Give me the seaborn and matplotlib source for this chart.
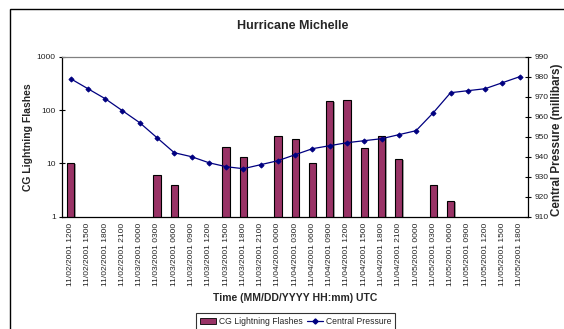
import numpy as np
import pandas as pd
import matplotlib
matplotlib.use("Agg")
import matplotlib.pyplot as plt
import matplotlib.patheffects as pe
from matplotlib.patches import Patch, Rectangle
from matplotlib.lines import Line2D
from matplotlib.ticker import NullLocator, FixedLocator
import seaborn as sns

# Observation times (UTC)
times = [
    "11/02/2001 1200", "11/02/2001 1500", "11/02/2001 1800", "11/02/2001 2100",
    "11/03/2001 0000", "11/03/2001 0300", "11/03/2001 0600", "11/03/2001 0900",
    "11/03/2001 1200", "11/03/2001 1500", "11/03/2001 1800", "11/03/2001 2100",
    "11/04/2001 0000", "11/04/2001 0300", "11/04/2001 0600", "11/04/2001 0900",
    "11/04/2001 1200", "11/04/2001 1500", "11/04/2001 1800", "11/04/2001 2100",
    "11/05/2001 0000", "11/05/2001 0300", "11/05/2001 0600", "11/05/2001 0900",
    "11/05/2001 1200", "11/05/2001 1500", "11/05/2001 1800",
]

# Cloud-to-ground lightning flash counts (NaN = no flashes recorded)
flashes = [
    10, np.nan, np.nan, np.nan,
    np.nan, 6, 4, np.nan,
    np.nan, 20, 13, np.nan,
    33, 29, 10, 146,
    155, 19, 32, 12,
    np.nan, 4, 2, np.nan,
    np.nan, np.nan, np.nan,
]

# Central pressure (mb)
pressure = [
    979, 974, 969, 963,
    957, 949.5, 942, 940,
    937, 935, 934, 936,
    938, 941, 944, 945.5,
    947, 948, 949, 951,
    953, 962, 972, 973,
    974, 977, 980,
]

flash_ticks = [1, 10, 100, 1000]
pressure_ticks = [910, 920, 930, 940, 950, 960, 970, 980, 990]

bar_color = "#993366"
line_color = "#000080"

df = pd.DataFrame({"time": times, "flashes": flashes, "pressure": pressure})
bars = df.dropna(subset=["flashes"])

sns.set_style("white")
plt.rcParams["font.family"] = ["Liberation Sans", "DejaVu Sans"]

fig = plt.figure(figsize=(5.64, 3.29), dpi=100)
W, H = 564, 329
left, right, top, bottom = 62, 528.3, 56.7, 216.7
ax = fig.add_axes([left / W, 1 - bottom / H, (right - left) / W, (bottom - top) / H])

sns.barplot(data=bars, x="time", y="flashes", order=times, color=bar_color,
            edgecolor="black", linewidth=0.8, width=0.42, saturation=1, ax=ax)
ax.set_yscale("log")
for p in ax.patches:
    p.set_path_effects([pe.SimplePatchShadow(offset=(1.0, -0.8), shadow_rgbFace="#808080", alpha=0.7),
                        pe.Normal()])
ax.set_ylim(1, 1000)

ax2 = ax.twinx()
sns.pointplot(data=df, x="time", y="pressure", order=times, color=line_color,
              markers="D", markersize=2.6, linewidth=0.9, ax=ax2)
ax2.set_ylim(910, 990)

# Axis ticks
ax.set_xlim(-0.5, len(times) - 0.5)
ax.xaxis.set_major_locator(FixedLocator(np.arange(len(times))))
ax.set_xticklabels(times, rotation=90, fontsize=6, color="#222222")
ax.xaxis.set_minor_locator(FixedLocator(np.arange(-0.5, len(times), 1.0)))
ax.tick_params(axis="x", which="major", length=0, pad=4.2)
ax.tick_params(axis="x", which="minor", direction="inout", length=4.5, width=0.8, color="black")

ax.yaxis.set_major_locator(FixedLocator(flash_ticks))
ax.set_yticklabels([str(v) for v in flash_ticks], fontsize=6, color="#222222")
ax.yaxis.set_minor_locator(NullLocator())
ax.tick_params(axis="y", which="major", direction="inout", length=5, width=0.8,
               color="black", pad=2, left=True)

ax2.yaxis.set_major_locator(FixedLocator(pressure_ticks))
ax2.set_yticklabels([str(v) for v in pressure_ticks], fontsize=6, color="#222222")
ax2.tick_params(axis="y", which="major", direction="inout", length=5, width=0.8,
                color="black", pad=2, right=True)

# Spines
for s in ["left", "bottom"]:
    ax.spines[s].set_color("black")
    ax.spines[s].set_linewidth(0.9)
ax.spines["top"].set_color("#808080")
ax.spines["top"].set_linewidth(0.9)
ax.spines["right"].set_visible(False)
for s in ["left", "bottom", "top"]:
    ax2.spines[s].set_visible(False)
ax2.spines["right"].set_visible(True)
ax2.spines["right"].set_color("black")
ax2.spines["right"].set_linewidth(0.9)

# Labels
ax.set_xlabel("Time (MM/DD/YYYY HH:mm) UTC", fontsize=7.5, fontweight="bold")
ax.xaxis.set_label_coords(0.5, -0.508)
ax.xaxis.label.set_va("center")
ax.set_ylabel("CG Lightning Flashes", fontsize=7.5, fontweight="bold")
ax.yaxis.set_label_coords((28 - left) / (right - left), 0.5)
ax.yaxis.label.set_va("center")
ax2.set_ylabel("Central Pressure (millibars)", fontsize=8.4, fontweight="bold")
ax2.yaxis.set_label_coords((557.3 - left) / (right - left), 0.48)
ax2.yaxis.label.set_va("center")

fig.text(292.7 / W, 1 - 25.7 / H, "Hurricane Michelle", ha="center", va="center",
         fontsize=9, fontweight="bold")

# Legend
handles = [
    Patch(facecolor=bar_color, edgecolor="black", linewidth=0.6),
    Line2D([], [], color=line_color, marker="D", markersize=2.6, linewidth=0.9),
]
leg = fig.legend(handles, ["CG Lightning Flashes", "Central Pressure"],
                 loc="upper center", bbox_to_anchor=(295.5 / W, 1 - 313 / H), ncol=2,
                 fontsize=6.2, frameon=True, fancybox=False, edgecolor="black",
                 handlelength=1.9, handleheight=0.6, handletextpad=0.3,
                 columnspacing=0.5, borderpad=0.45, borderaxespad=0)
leg.get_frame().set_linewidth(0.8)

# Chart-area border
fig.patches.append(Rectangle((10 / W, -0.2), 1.2, (H - 9) / H + 0.2, transform=fig.transFigure,
                             fill=False, edgecolor="black", linewidth=1.0))

fig.savefig("out.png", dpi=100)
